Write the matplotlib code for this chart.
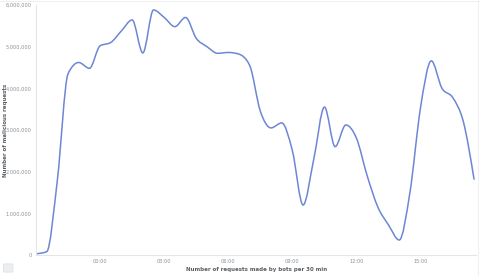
import matplotlib.pyplot as plt
import matplotlib.ticker as mticker
from matplotlib.path import Path
from matplotlib.patches import PathPatch, FancyBboxPatch
import numpy as np

# half-hour bins, hours relative to 00:00 (starts at 21:00 the day before)
hours = [-3.0, -2.5, -2.0, -1.5, -1.0, -0.5, 0.0, 0.5, 1.0, 1.5,
         2.0, 2.5, 3.0, 3.5, 4.0, 4.5, 5.0, 5.5, 6.0, 6.5,
         7.0, 7.5, 8.0, 8.5, 9.0, 9.5, 10.0, 10.5, 11.0, 11.5,
         12.0, 12.5, 13.0, 13.5, 14.0, 14.5, 15.0, 15.5, 16.0, 16.5,
         17.0, 17.5]
requests = [0.03, 0.08, 1.8, 4.35, 4.62, 4.48, 5.02, 5.1, 5.38, 5.64,
            4.85, 5.88, 5.7, 5.48, 5.7, 5.2, 5.0, 4.84, 4.86, 4.82,
            4.55, 3.45, 3.05, 3.17, 2.5, 1.2, 2.3, 3.55, 2.6, 3.12,
            2.8, 1.9, 1.15, 0.72, 0.36, 1.5, 3.55, 4.66, 4.0, 3.78,
            3.2, 1.82]
requests = [v * 1e6 for v in requests]

tick_hours = [0, 3, 6, 9, 12, 15]
tick_labels = ["00:00", "03:00", "06:00", "09:00", "12:00", "15:00"]

line_color = "#6d86d6"
axis_color = "#e4e7ea"
text_color = "#8a8f94"


def monotone_path(xs, ys):
    # monotone cubic (same rule as d3 curveMonotoneX) as bezier segments
    xs = np.asarray(xs, float)
    ys = np.asarray(ys, float)
    h = np.diff(xs)
    s = np.diff(ys) / h
    t = np.zeros(len(xs))
    for i in range(1, len(xs) - 1):
        p = (s[i - 1] * h[i] + s[i] * h[i - 1]) / (h[i - 1] + h[i])
        t[i] = (np.sign(s[i - 1]) + np.sign(s[i])) * min(abs(s[i - 1]), abs(s[i]), 0.5 * abs(p))
    t[0] = (3 * s[0] - t[1]) / 2
    t[-1] = (3 * s[-1] - t[-2]) / 2
    verts = [(xs[0], ys[0])]
    codes = [Path.MOVETO]
    for i in range(len(xs) - 1):
        d = h[i] / 3
        verts += [(xs[i] + d, ys[i] + d * t[i]),
                  (xs[i + 1] - d, ys[i + 1] - d * t[i + 1]),
                  (xs[i + 1], ys[i + 1])]
        codes += [Path.CURVE4] * 3
    return Path(verts, codes)


fig = plt.figure(figsize=(4.8, 2.76), dpi=100)
ax = fig.add_axes([0.075, 0.076, 0.917, 0.906])

ax.add_patch(PathPatch(monotone_path(hours, requests), facecolor="none",
                       edgecolor=line_color, linewidth=1.1, capstyle="round"))

ax.set_xlim(hours[0], hours[-1] + 0.1)
ax.set_ylim(0, 6e6)
ax.set_xticks(tick_hours)
ax.set_xticklabels(tick_labels)
ax.set_yticks(np.arange(0, 6e6 + 1, 1e6))
ax.yaxis.set_major_formatter(mticker.FuncFormatter(lambda v, p: f"{int(v):,}"))

for s in ["top", "right"]:
    ax.spines[s].set_visible(False)
for s in ["left", "bottom"]:
    ax.spines[s].set_color(axis_color)
    ax.spines[s].set_linewidth(0.8)
ax.tick_params(length=0, labelsize=3.6, labelcolor=text_color, pad=3)

ax.set_xlabel("Number of requests made by bots per 30 min", fontsize=4,
              color="#5a5f64", fontweight="bold", labelpad=2)
ax.set_ylabel("Number of malicious requests", fontsize=4,
              color="#5a5f64", fontweight="bold")
ax.yaxis.set_label_coords(-0.064, 0.5)

# frame lines around the panel and the small legend toggle
fig.add_artist(plt.Line2D([0, 1], [0.998, 0.998], color="#eef0f2", lw=0.8))
fig.add_artist(plt.Line2D([0.996, 0.996], [0, 1], color="#eef0f2", lw=0.8))
fig.add_artist(FancyBboxPatch((0.009, 0.016), 0.016, 0.026,
                              boxstyle="round,pad=0.002", transform=fig.transFigure,
                              facecolor="#eceef0", edgecolor="#dde0e3", lw=0.5))

fig.savefig("out.png", dpi=100)
